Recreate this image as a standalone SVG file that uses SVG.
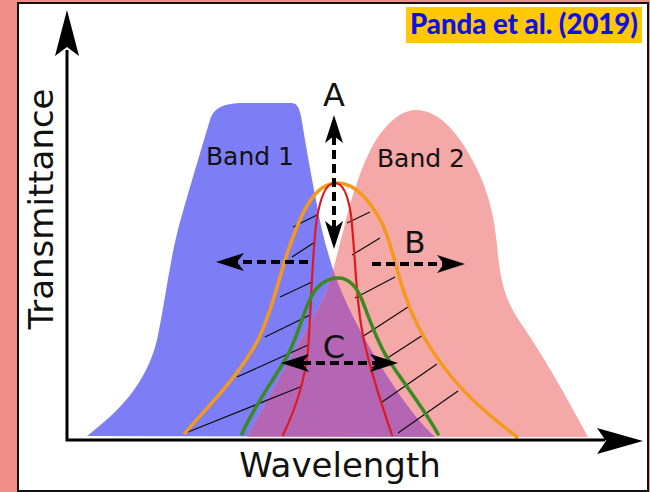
<svg xmlns="http://www.w3.org/2000/svg" xmlns:xlink="http://www.w3.org/1999/xlink" width="650" height="492" viewBox="0 0 650 492">
<style>
.lbl{font-family:"DejaVu Sans",sans-serif;fill:#111}
.hatch{stroke:#111;stroke-width:1.3;fill:none}
.curve{fill:none;stroke-linecap:round;stroke-linejoin:round}
.dash{stroke:#000;stroke-width:4;fill:none;stroke-dasharray:9 5}
.axis{stroke:#000;stroke-width:3;fill:none}
</style>
<defs>
<path id="bluePath" d="M87,436 C118,412 146,385 157,340 C166,298 170,255 182,215 C192,180 204,140 210,120 C214,108 222,104 240,103 L292,103 C298,104 299,108 301,116 C305,140 310,170 316,200 C321,230 328,255 336,278 C350,315 370,350 395,388 C410,410 422,425 435,437 Z"/>
<path id="pinkPath" d="M247,437 C262,410 295,350 320,305 C332,283 337,252 344,228 C352,196 365,150 385,128 C395,116 406,110 416,110 C440,110 460,135 475,165 C488,190 494,215 497,245 C500,280 505,300 520,322 C545,358 568,400 588,437 Z"/>
<clipPath id="blueClip"><use xlink:href="#bluePath"/></clipPath>
<marker id="head" viewBox="0 0 28 20" refX="7" refY="10" markerWidth="28" markerHeight="20" markerUnits="userSpaceOnUse" orient="auto-start-reverse">
<path d="M0,1 L28,10 L0,19 L7,10 Z" fill="#000"/>
</marker>
</defs>
<rect x="0" y="0" width="650" height="492" fill="#ef8f88"/>
<rect x="18" y="3" width="630" height="488" fill="#fff" stroke="#111" stroke-width="2"/>
<g id="title">
<rect x="406" y="7" width="236" height="36" fill="#ffc800"/>
<text x="524" y="34" text-anchor="middle" font-family="Lato,'Noto Sans',sans-serif" font-weight="900" font-size="28" fill="#1010e6" textLength="228" lengthAdjust="spacingAndGlyphs">Panda et al. (2019)</text>
</g>
<g id="band1"><use xlink:href="#bluePath" fill="#7d7df5"/></g>
<g id="band2"><use xlink:href="#pinkPath" fill="#f5a8a8"/></g>
<g id="overlap" clip-path="url(#blueClip)"><use xlink:href="#pinkPath" fill="#b466b4"/></g>
<g id="hatching" class="hatch">
<line x1="293" y1="227" x2="317" y2="215"/>
<line x1="292" y1="257" x2="315" y2="242"/>
<line x1="280" y1="297" x2="312" y2="282"/>
<line x1="265" y1="337" x2="310" y2="315"/>
<line x1="237" y1="377" x2="308" y2="345"/>
<line x1="188" y1="432" x2="300" y2="387"/>
<line x1="347" y1="223" x2="370" y2="212"/>
<line x1="352" y1="255" x2="380" y2="238"/>
<line x1="355" y1="298" x2="395" y2="277"/>
<line x1="362" y1="337" x2="408" y2="307"/>
<line x1="372" y1="368" x2="423" y2="335"/>
<line x1="382" y1="402" x2="437" y2="364"/>
<line x1="398" y1="433" x2="458" y2="391"/>
</g>
<g id="filter-wide"><path class="curve" stroke="#f39a1e" stroke-width="3.5" d="M185,433 C205,410 240,375 258,340 C275,305 280,270 292,240 C302,212 315,183 337,183 C358,183 372,205 382,223 C392,245 396,270 405,295 C415,325 430,350 450,375 C470,400 495,420 517,437"/></g>
<g id="filter-narrow"><path class="curve" stroke="#e0191e" stroke-width="2.2" d="M283,435 C295,410 305,380 308,350 C311,310 312,260 316,225 C320,195 327,183 335,183 C343,183 348,195 351,215 C355,250 356,300 362,330 C367,360 380,400 392,435"/></g>
<g id="filter-mid"><path class="curve" stroke="#3a8a22" stroke-width="3.5" d="M242,434 C252,410 270,385 285,360 C300,335 305,300 318,287 C325,280 331,278 338,278 C348,278 356,285 362,300 C370,320 378,345 390,362 C405,385 425,410 438,434"/></g>
<g id="axes">
<path class="axis" d="M67,50 L67,440 L605,440"/>
<path d="M67,10 L79,56 L67,47 L55,56 Z" fill="#000"/>
<path d="M643,441 L597,428 L606,441 L597,454 Z" fill="#000"/>
</g>
<g id="connectors">
<line class="dash" x1="334" y1="136" x2="334" y2="228" stroke-dasharray="12 4" marker-start="url(#head)" marker-end="url(#head)"/>
<line class="dash" x1="372" y1="264" x2="444" y2="264" marker-end="url(#head)"/>
<line class="dash" x1="308" y1="262" x2="237" y2="262" marker-end="url(#head)"/>
<line class="dash" x1="302" y1="363" x2="377" y2="363" marker-start="url(#head)" marker-end="url(#head)"/>
</g>
<g id="labels">
<text class="lbl" x="250" y="165" font-size="25" text-anchor="middle">Band 1</text>
<text class="lbl" x="421" y="167" font-size="25" text-anchor="middle">Band 2</text>
<text class="lbl" x="334" y="106" font-size="32" text-anchor="middle">A</text>
<text class="lbl" x="415" y="253" font-size="31" text-anchor="middle">B</text>
<text class="lbl" x="334" y="358" font-size="32" text-anchor="middle">C</text>
<text class="lbl" x="340" y="477" font-size="34" text-anchor="middle">Wavelength</text>
<text class="lbl" transform="translate(53,209) rotate(-90)" font-size="34" text-anchor="middle">Transmittance</text>
</g>
</svg>
